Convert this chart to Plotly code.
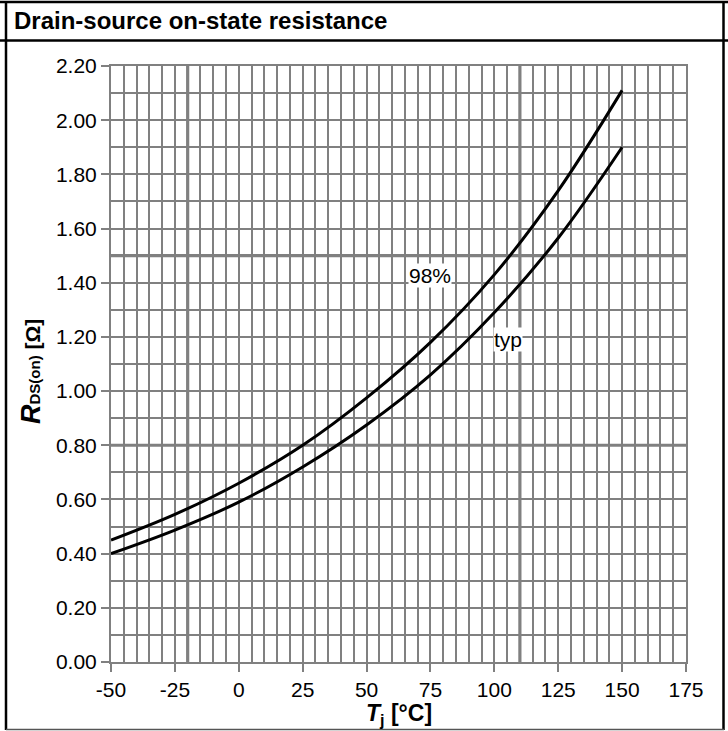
import plotly.graph_objects as go

# Data
temps = [-50, -25, 0, 25, 50, 75, 100, 125, 150]
r_98 = [0.45, 0.545, 0.66, 0.80, 0.975, 1.18, 1.43, 1.74, 2.11]
r_typ = [0.40, 0.487, 0.59, 0.72, 0.875, 1.06, 1.29, 1.565, 1.90]

x_ticks = [-50, -25, 0, 25, 50, 75, 100, 125, 150, 175]
y_ticks = [0.0, 0.2, 0.4, 0.6, 0.8, 1.0, 1.2, 1.4, 1.6, 1.8, 2.0, 2.2]
thick_x = [-20, 110]
thick_y = [0.8, 1.5]

FONT = "Arial, Liberation Sans, sans-serif"
GRID = "#808080"

fig = go.Figure()
fig.add_trace(go.Scatter(x=temps, y=r_98, mode="lines", line=dict(color="black", width=3, shape="spline"),
                         name="98%", showlegend=False))
fig.add_trace(go.Scatter(x=temps, y=r_typ, mode="lines", line=dict(color="black", width=3, shape="spline"),
                         name="typ", showlegend=False))

W, H = 728, 731
L, R, T, B = 111, 42, 66, 69
pw, ph = W - L - R, H - T - B

def px(xp):
    return (xp - L) / pw

def py(yp):
    return (H - B - yp) / ph

shapes = []
for xv in thick_x:
    shapes.append(dict(type="line", xref="x", yref="y", x0=xv, x1=xv, y0=0, y1=2.2,
                       line=dict(color=GRID, width=3.2), layer="between"))
for yv in thick_y:
    shapes.append(dict(type="line", xref="x", yref="y", x0=-50, x1=175, y0=yv, y1=yv,
                       line=dict(color=GRID, width=3.2), layer="between"))

# outer frame
shapes += [
    dict(type="line", xref="paper", yref="paper", x0=px(6), x1=px(6), y0=py(1), y1=py(730),
         line=dict(color="black", width=2.5), layer="above"),
    dict(type="line", xref="paper", yref="paper", x0=px(723.5), x1=px(723.5), y0=py(1), y1=py(730),
         line=dict(color="black", width=2.5), layer="above"),
    dict(type="line", xref="paper", yref="paper", x0=px(0), x1=px(728), y0=py(2), y1=py(2),
         line=dict(color="black", width=2.5), layer="above"),
    dict(type="line", xref="paper", yref="paper", x0=px(0), x1=px(728), y0=py(40.5), y1=py(40.5),
         line=dict(color="black", width=2.5), layer="above"),
    dict(type="line", xref="paper", yref="paper", x0=px(6), x1=px(724), y0=py(729.5), y1=py(729.5),
         line=dict(color="#555555", width=1.5), layer="above"),
]

annotations = [
    dict(text="<b>Drain-source on-state resistance</b>", xref="paper", yref="paper",
         x=px(12), y=py(21), xanchor="left", yanchor="middle", showarrow=False,
         font=dict(family=FONT, size=24, color="black")),
    dict(text="98%", xref="x", yref="y", x=75, y=1.425, showarrow=False,
         font=dict(family=FONT, size=21, color="black"), bgcolor="white", borderpad=0),
    dict(text="typ", xref="x", yref="y", x=105.5, y=1.19, showarrow=False,
         font=dict(family=FONT, size=21, color="black"), bgcolor="white", borderpad=0),
    dict(text="<b><i>T</i></b><b><sub>j</sub></b><b> [°C]</b>", xref="paper", yref="paper",
         x=0.5, y=py(714), xanchor="center", yanchor="middle", showarrow=False,
         font=dict(family=FONT, size=23, color="black")),
    dict(text=("<b><i>R</i></b><b><span style='font-size:15px'>DS(on)</span></b>"
               "<b><span style='font-size:21px'> [Ω]</span></b>"),
         xref="paper", yref="paper",
         x=px(31), y=py(372), xanchor="center", yanchor="middle", textangle=-90, showarrow=False,
         font=dict(family=FONT, size=27, color="black")),
]

fig.update_layout(
    width=W, height=H,
    margin=dict(l=L, r=R, t=T, b=B),
    paper_bgcolor="white", plot_bgcolor="white",
    shapes=shapes, annotations=annotations,
    font=dict(family=FONT, size=21, color="black"),
)
fig.update_xaxes(
    range=[-50, 175], tickvals=x_ticks, ticktext=[str(v) for v in x_ticks],
    ticks="outside", ticklen=8, tickwidth=2, tickcolor=GRID,
    showgrid=True, gridcolor=GRID, gridwidth=2,
    minor=dict(dtick=5, tick0=0, showgrid=True, gridcolor=GRID, gridwidth=2, ticks=""),
    showline=True, linecolor=GRID, linewidth=2, mirror=True, zeroline=False,
    tickfont=dict(family=FONT, size=21, color="black"),
)
fig.update_yaxes(
    range=[0, 2.2], tickvals=y_ticks, ticktext=[f"{v:.2f}" for v in y_ticks],
    ticks="outside", ticklen=8, tickwidth=2, tickcolor=GRID,
    showgrid=True, gridcolor=GRID, gridwidth=2,
    minor=dict(dtick=0.1, tick0=0, showgrid=True, gridcolor=GRID, gridwidth=2, ticks=""),
    showline=True, linecolor=GRID, linewidth=2, mirror=True, zeroline=False,
    tickfont=dict(family=FONT, size=21, color="black"),
)

fig.write_html("out.html", config={"displayModeBar": False},
               post_script="document.body.style.margin='0px';")
